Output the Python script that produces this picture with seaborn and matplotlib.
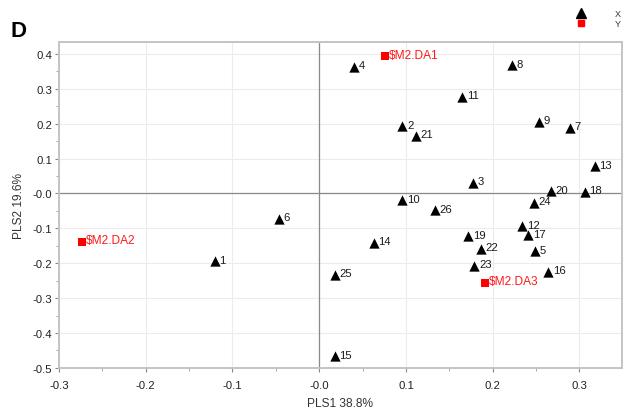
import matplotlib
matplotlib.use("Agg")
import matplotlib.pyplot as plt
from matplotlib.lines import Line2D
from matplotlib.ticker import FixedLocator, MultipleLocator
import numpy as np
import pandas as pd
import seaborn as sns

# X-block scores (samples 1..26) on PLS components 1 and 2
x_names = [str(i) for i in range(1, 27)]
x_pls1 = [-0.120, 0.096, 0.177, 0.040, 0.249, -0.046, 0.289, 0.222, 0.253, 0.096,
          0.165, 0.234, 0.318, 0.063, 0.018, 0.264, 0.241, 0.306, 0.172, 0.267,
          0.111, 0.186, 0.179, 0.248, 0.018, 0.133]
x_pls2 = [-0.194, 0.192, 0.031, 0.363, -0.166, -0.072, 0.189, 0.367, 0.206, -0.019,
          0.277, -0.094, 0.078, -0.141, -0.466, -0.224, -0.120, 0.005, -0.123, 0.007,
          0.166, -0.158, -0.207, -0.026, -0.233, -0.048]

# Y-block (class dummy variables) loadings
y_names = ["$M2.DA1", "$M2.DA2", "$M2.DA3"]
y_pls1 = [0.076, -0.273, 0.191]
y_pls2 = [0.394, -0.138, -0.256]

xtick_vals = [-0.3, -0.2, -0.1, 0.0, 0.1, 0.2, 0.3]
xtick_labels = ["-0.3", "-0.2", "-0.1", "-0.0", "0.1", "0.2", "0.3"]
ytick_vals = [-0.5, -0.4, -0.3, -0.2, -0.1, 0.0, 0.1, 0.2, 0.3, 0.4]
ytick_labels = ["-0.5", "-0.4", "-0.3", "-0.2", "-0.1", "-0.0", "0.1", "0.2", "0.3", "0.4"]

df = pd.DataFrame({
    "name": x_names + y_names,
    "PLS1": x_pls1 + y_pls1,
    "PLS2": x_pls2 + y_pls2,
    "block": ["X"] * len(x_names) + ["Y"] * len(y_names),
})

sns.set_theme(style="white")
plt.rcParams["font.family"] = ["Liberation Sans", "DejaVu Sans"]

fig = plt.figure(figsize=(6.27, 4.14), dpi=100)
ax = fig.add_axes([0.094, 0.109, 0.898, 0.787])

# faint grid and the zero cross-hair
ax.set_axisbelow(True)
ax.grid(True, color="#ececec", linewidth=0.8)
ax.axhline(0, color="#8a8a8a", linewidth=0.9, zorder=1)
ax.axvline(0, color="#8a8a8a", linewidth=0.9, zorder=1)

palette = {"X": "black", "Y": "#ff0000"}
markers = {"X": "^", "Y": "s"}
sns.scatterplot(data=df[df.block == "X"], x="PLS1", y="PLS2", color=palette["X"],
                marker=markers["X"], s=55, linewidth=0, ax=ax, zorder=3, legend=False)
sns.scatterplot(data=df[df.block == "Y"], x="PLS1", y="PLS2", color=palette["Y"],
                marker=markers["Y"], s=28, linewidth=0, ax=ax, zorder=3, legend=False)

for _, row in df.iterrows():
    is_x = row.block == "X"
    ax.annotate(row["name"], (row.PLS1, row.PLS2), xytext=(3.2 if is_x else 2.6, 1),
                textcoords="offset points", ha="left", va="center",
                fontsize=8.1 if is_x else 8.6,
                color="#1a1a1a" if is_x else "#ff1a1a", zorder=4)

ax.set_xlim(-0.3, 0.349)
ax.set_ylim(-0.5, 0.434)
ax.xaxis.set_major_locator(FixedLocator(xtick_vals))
ax.set_xticklabels(xtick_labels)
ax.yaxis.set_major_locator(FixedLocator(ytick_vals))
ax.set_yticklabels(ytick_labels)
ax.xaxis.set_minor_locator(MultipleLocator(0.05))
ax.yaxis.set_minor_locator(MultipleLocator(0.05))
ax.tick_params(axis="both", which="major", direction="out", length=3, width=0.8,
               color="#888888", labelsize=8.2, labelcolor="#222222", pad=2,
               bottom=True, left=True)
ax.tick_params(axis="both", which="minor", direction="out", length=2, width=0.6,
               color="#999999", bottom=True, left=True)
ax.tick_params(axis="x", pad=6)

for sp in ax.spines.values():
    sp.set_color("#c4c4c4")
    sp.set_linewidth(1.4)

ax.set_xlabel("PLS1 38.8%", fontsize=8.6, color="#333333", labelpad=5)
ax.set_ylabel("PLS2 19.6%", fontsize=8.6, color="#333333", labelpad=5)

fig.text(0.016, 0.91, "D", fontsize=16, fontweight="bold", color="black")

handles = [Line2D([], [], marker="^", color="black", linestyle="none", markersize=7),
           Line2D([], [], marker="s", color="#ff0000", linestyle="none", markersize=5)]
fig.legend(handles, ["X", "Y"], loc="upper right", bbox_to_anchor=(1.0, 0.99),
           frameon=False, fontsize=6.5, handletextpad=3.2, labelspacing=0.05,
           borderaxespad=0.3, handlelength=1.0, labelcolor="#333333")

fig.savefig("out.png", dpi=100)
